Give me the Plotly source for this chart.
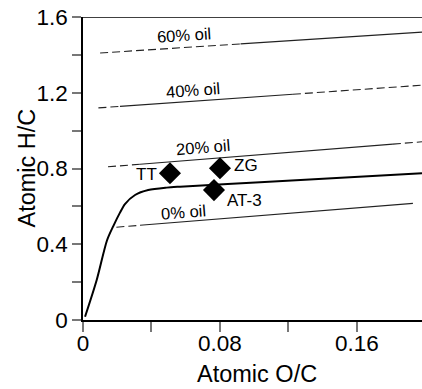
import plotly.graph_objects as go

# Oil-fraction reference lines (start/end points)
oil_labels = ["60% oil", "40% oil", "20% oil", "0% oil"]
oil_x0 = [0.010, 0.009, 0.0146, 0.0195]
oil_x1 = [0.198, 0.198, 0.198, 0.1927]
oil_y0 = [1.41, 1.12, 0.809, 0.490]
oil_y1 = [1.52, 1.24, 0.941, 0.616]
# where each line switches from dashed to solid, and back to dashed
oil_solid_from = [0.092, 0.0216, 0.0333, 0.0333]
oil_solid_to = [0.198, 0.1226, 0.181, 0.1927]
oil_label_x = [0.059, 0.0644, 0.0702, 0.0586]
oil_label_y = [1.505, 1.214, 0.915, 0.572]

# Main curve
curve_x = [0.0012, 0.008, 0.0140, 0.0177, 0.0216, 0.0245, 0.0304, 0.0381, 0.0489, 0.0566, 0.1034, 0.198]
curve_y = [0.017, 0.211, 0.420, 0.496, 0.567, 0.612, 0.660, 0.686, 0.699, 0.704, 0.727, 0.775]

# Samples
sample_names = ["TT", "ZG", "AT-3"]
sample_x = [0.0508, 0.080, 0.0765]
sample_y = [0.775, 0.801, 0.686]

x_tickvals = [0, 0.04, 0.08, 0.12, 0.16]
x_ticktext = ["0", "", "0.08", "", "0.16"]
y_tickvals = [0, 0.2, 0.4, 0.6, 0.8, 1.0, 1.2, 1.4, 1.6]
y_ticktext = ["0", "", "0.4", "", "0.8", "", "1.2", "", "1.6"]

FONT = "Liberation Sans, Arial, sans-serif"

fig = go.Figure()

def yline(i, x):
    return oil_y0[i] + (oil_y1[i] - oil_y0[i]) * (x - oil_x0[i]) / (oil_x1[i] - oil_x0[i])

for i in range(len(oil_labels)):
    segs = []
    if oil_solid_from[i] > oil_x0[i]:
        segs.append((oil_x0[i], oil_solid_from[i], "8px,4px"))
    segs.append((oil_solid_from[i], oil_solid_to[i], "solid"))
    if oil_x1[i] > oil_solid_to[i]:
        segs.append((oil_solid_to[i], oil_x1[i], "8px,4px"))
    for a, b, d in segs:
        fig.add_trace(go.Scatter(x=[a, b], y=[yline(i, a), yline(i, b)], mode="lines",
                                 line=dict(color="#222", width=1.1, dash=d),
                                 showlegend=False, hoverinfo="skip"))

fig.add_trace(go.Scatter(x=curve_x, y=curve_y, mode="lines",
                         line=dict(color="black", width=2, shape="spline", smoothing=0.8),
                         showlegend=False))

fig.add_trace(go.Scatter(x=sample_x, y=sample_y, mode="markers",
                         marker=dict(symbol="diamond", size=17, color="black"),
                         showlegend=False))

angles = [-3.7, -4.1, -4.6, -4.5]
for i, lab in enumerate(oil_labels):
    fig.add_annotation(x=oil_label_x[i], y=oil_label_y[i], text=lab, showarrow=False,
                       textangle=angles[i], font=dict(family=FONT, size=16.5, color="black"))

shifts = [(-23, -1), (26, 3), (31, -10)]
for i, n in enumerate(sample_names):
    fig.add_annotation(x=sample_x[i], y=sample_y[i], text=n, showarrow=False,
                       xshift=shifts[i][0], yshift=shifts[i][1],
                       font=dict(family=FONT, size=17, color="black"))

# axis titles
fig.add_annotation(xref="paper", yref="paper", x=0.512, y=-0.2277, text="Atomic O/C",
                   showarrow=False, xanchor="center", yanchor="bottom",
                   font=dict(family=FONT, size=23.5, color="black"))
fig.add_annotation(xref="paper", yref="paper", x=-0.168, y=0.5, text="Atomic H/C",
                   showarrow=False, xanchor="center", yanchor="middle", textangle=-90,
                   font=dict(family=FONT, size=23.5, color="black"))

fig.add_shape(type="line", xref="paper", yref="y", x0=0, x1=1, y0=1.6, y1=1.6,
              line=dict(color="black", width=1.5))

fig.update_layout(
    width=422, height=389,
    margin=dict(l=83, r=0, t=17, b=69),
    plot_bgcolor="white", paper_bgcolor="white",
    font=dict(family=FONT, color="black"),
    xaxis=dict(range=[0, 0.198], tickvals=x_tickvals, ticktext=x_ticktext,
               showgrid=False, zeroline=False, showline=True, linecolor="black", linewidth=1.5,
               ticks="outside", ticklen=10, tickcolor="#777", tickwidth=1.5,
               tickfont=dict(size=22.5), automargin=False, ticklabelstandoff=-8),
    yaxis=dict(range=[0, 1.6], tickvals=y_tickvals, ticktext=y_ticktext,
               showgrid=False, zeroline=False, showline=True, linecolor="black", linewidth=1.5,
               ticks="outside", ticklen=9, tickcolor="#777", tickwidth=1.5,
               tickfont=dict(size=22.5), automargin=False),
)

fig.write_html("out.html", config={"displayModeBar": False},
               post_script="document.body.style.margin='0';document.body.style.overflow='hidden';")
